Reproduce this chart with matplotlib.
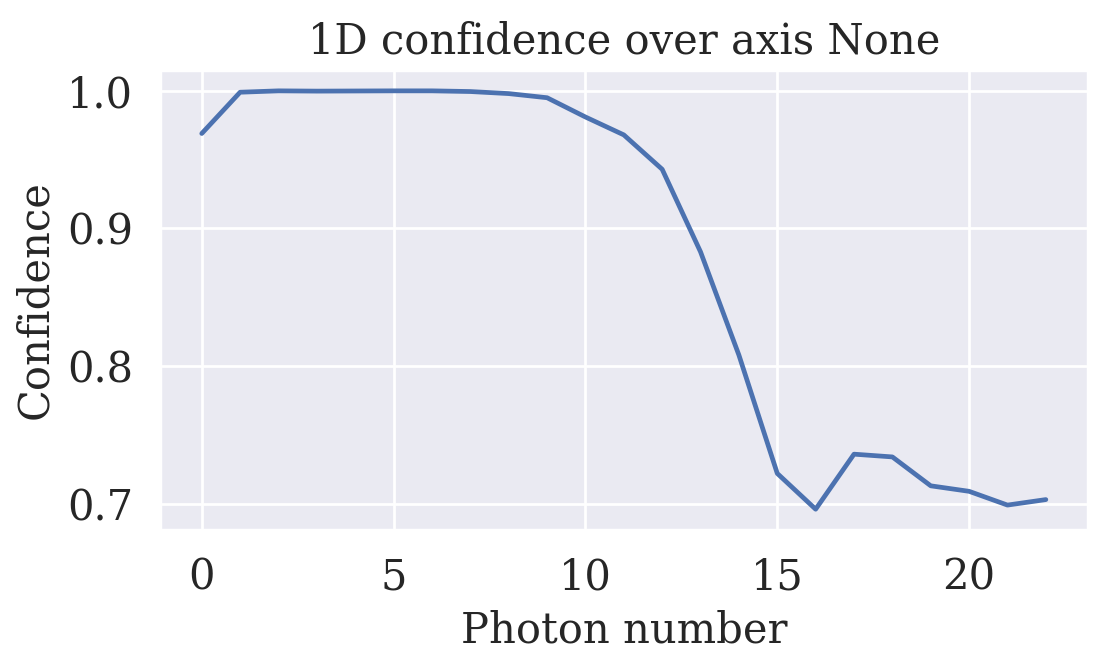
import matplotlib
matplotlib.use("Agg")
import matplotlib.pyplot as plt
import seaborn as sns

sns.set_theme(style="darkgrid", font_scale=1.35)
plt.rcParams['font.family'] = 'serif'

photon_number = list(range(23))
confidence = [0.969, 0.999, 1.0, 0.9998, 0.9999, 1.0, 1.0, 0.9995, 0.998, 0.995,
              0.981, 0.968, 0.943, 0.883, 0.808, 0.722, 0.696, 0.736, 0.734,
              0.713, 0.709, 0.699, 0.703]

fig, ax = plt.subplots(figsize=(5.54, 3.33), dpi=200)
ax.plot(photon_number, confidence, linewidth=1.7)
ax.set_title("1D confidence over axis None", fontsize=15)
ax.set_xlabel("Photon number", fontsize=15)
ax.set_ylabel("Confidence", fontsize=15)
ax.set_xticks([0, 5, 10, 15, 20])
ax.tick_params(labelsize=15)
fig.subplots_adjust(left=0.144, right=0.982, top=0.895, bottom=0.204)
fig.savefig("out.png")
